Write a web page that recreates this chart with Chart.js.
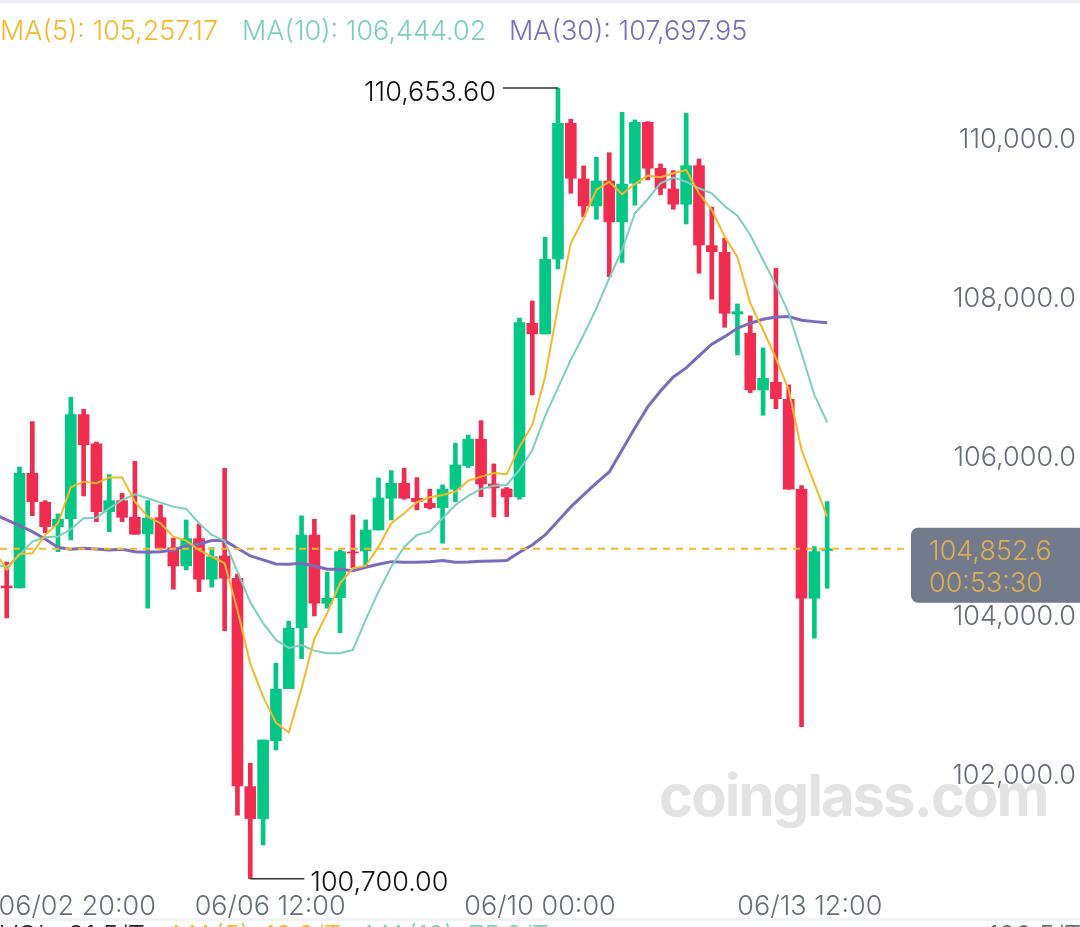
<!DOCTYPE html>
<html>
<head>
<meta charset="utf-8">
<title>BTC 4H</title>
<script src="https://cdn.jsdelivr.net/npm/chart.js@4/dist/chart.umd.min.js"></script>
<style>
    html, body { margin: 0; padding: 0; background: #fff; overflow: hidden; }
    canvas { display: block; }
</style>
</head>
<body>
<canvas id="klineChart" width="1080" height="927"></canvas>
<script>
// Candles
const opens = [104385,104360,105804,105439,105132,105233,106542,106173,105321,105459,105250,105040,105245,104868,104637,104981,104470,104763,104482,101858,101456,102437,103092,103860,105024,104167,104238,104813,104826,105090,105489,105678,105489,105426,105371,105603,105900,106232,105669,105606,105509,107692,107558,108502,110210,109509,109169,109484,108968,109455,110223,109644,109383,109191,109677,108670,108586,107810,107567,106853,106950,106736,105603,104230,104832];
const closes = [104360,105804,105447,105132,105225,106542,106164,105321,105459,105250,105036,105238,104860,104637,104981,104470,104754,104482,101867,101456,102446,103085,103853,105024,104167,104230,104817,104801,105090,105493,105678,105489,105447,105371,105603,105909,106232,105669,105619,105506,107700,107558,108498,110210,109518,109169,109484,108968,109443,110223,109644,109392,109191,109677,108678,108594,107818,107839,106853,107000,106743,105603,104230,104817,104852.6];
const highs = [104687,105883,106454,105459,105292,106761,106610,106198,105787,105552,105955,105459,105405,104986,105216,105166,104868,105867,104533,102153,102446,103412,103941,105267,105225,104558,104838,105279,105216,105745,105837,105867,105749,105603,105657,106182,106286,106466,105921,105625,107759,107973,108775,110653.6,110261,109673,109782,109840,110349,110252,110231,109698,109614,110337,109761,109153,108763,107936,107785,107382,108385,106916,105648,104880,105447];
const lows = [103982,104360,105270,105056,104817,104964,105518,105195,105069,105195,105036,104105,104860,104344,104587,104313,104369,103822,101498,100700,101124,102320,103092,103470,104008,104105,103797,104612,104628,105090,105216,105477,105342,105355,104923,105447,105875,105509,105254,105258,105477,106790,107558,108376,109329,109035,109002,108279,108460,109178,109497,109312,109128,108943,108322,107995,107642,107294,106819,106534,106617,105603,102614,103727,104356];

// Moving averages, the first value belongs to the candle just left of the view
const ma5 = [104838,104587,104788,104797,105027,105175,105628,105698,105678,105749,105749,105447,105258,105175,105006,104956,104838,104754,104671,104083,103403,102992,102664,102538,103097,103718,104042,104419,104608,104637,104880,105175,105301,105439,105502,105531,105572,105711,105761,105808,105792,106139,106412,107020,107902,108700,109015,109371,109475,109317,109446,109551,109531,109581,109623,109329,109119,108783,108524,107944,107608,107252,106853,106097,105673,105257.17];
const ma10 = [104650,104628,104776,104943,104998,105006,105099,105238,105245,105363,105468,105540,105489,105434,105384,105355,105175,105027,104952,104561,104180,103916,103705,103605,103642,103571,103538,103538,103579,103957,104313,104628,104873,105027,105069,105238,105405,105518,105606,105648,105657,105846,106097,106526,106878,107231,107545,107881,108259,108615,109077,109254,109455,109526,109475,109392,109329,109169,109047,108804,108489,108175,107818,107315,106790,106444.02];
const ma30 = [105292,105216,105145,105069,104977,104868,104847,104860,104851,104838,104847,104817,104809,104817,104838,104889,104914,104956,104956,104860,104763,104713,104662,104658,104671,104637,104595,104595,104578,104621,104658,104691,104684,104684,104691,104704,104684,104687,104696,104700,104704,104809,104901,105027,105204,105380,105531,105682,105821,106097,106374,106639,106840,107017,107130,107281,107428,107524,107630,107693,107743,107772,107776,107730,107713,107697.95];

// Axis labels
const timeLabels = ['06/02 20:00', '06/06 12:00', '06/10 00:00', '06/13 12:00'];
const timeTicks = [5.5, 20.55, 41.6, 62.65];
const priceTicks = [102000, 104000, 106000, 108000, 110000];

const lastPrice = 104852.6;
const countdown = '00:53:30';
const maxIndex = 43;
const minIndex = 19;
const bottomLegend = [
    { text: 'VOL: 91.5/T', color: '#222222', x: 0 },
    { text: 'MA(5): 18.8/T', color: '#f6b82b', x: 172 },
    { text: 'MA(10): 75.8/T', color: '#7ccfc0', x: 365 },
    { text: '100.5/T', color: '#656d78', x: 988 }
];

const GREEN = '#05c785';
const RED = '#f02d50';
const YELLOW = '#f6b82b';
const TEAL = '#7ccfc0';
const PURPLE = '#7c6bbd';
const AXIS_GREY = '#656d78';
const FONT = '"Inter", sans-serif';
const xMin = -0.523;
const xMax = 70.46;

const candleColors = closes.map((c, i) => (c >= opens[i] ? GREEN : RED));
const fmt = (v, d) => v.toLocaleString('en-US', { minimumFractionDigits: d, maximumFractionDigits: d });
const maPoints = (arr) => arr.map((v, i) => ({ x: i - 1, y: v }));
const maDataset = (label, arr, color, width, order) => ({
    type: 'line', label: label, data: maPoints(arr), borderColor: color,
    borderWidth: width, pointRadius: 0, tension: 0, order: order
});

// Everything that is text on top of the chart
const overlayPlugin = {
    id: 'overlay',
    beforeDraw(chart) {
        const ctx = chart.ctx;
        ctx.save();
        ctx.fillStyle = '#eef0f5';
        ctx.fillRect(0, 0, 1080, 3);
        ctx.fillStyle = '#f2f3f5';
        ctx.fillRect(0, 918, 1080, 3);
        ctx.restore();
    },
    beforeDatasetsDraw(chart) {
        // watermark
        const ctx = chart.ctx;
        ctx.save();
        ctx.font = '700 58px ' + FONT;
        ctx.letterSpacing = '-2px';
        ctx.fillStyle = '#e3e3e3';
        ctx.textAlign = 'left';
        ctx.textBaseline = 'alphabetic';
        ctx.fillText('coinglass.com', 659, 816);
        ctx.restore();
    },
    afterDraw(chart) {
        const ctx = chart.ctx;
        const xs = chart.scales.x;
        const ys = chart.scales.y;
        ctx.save();

        // header
        ctx.font = '300 27px ' + FONT;
        ctx.textBaseline = 'middle';
        ctx.textAlign = 'left';
        ctx.fillStyle = YELLOW;
        ctx.fillText('MA(5): ' + fmt(ma5[ma5.length - 1], 2), 0, 32);
        ctx.fillStyle = TEAL;
        ctx.fillText('MA(10): ' + fmt(ma10[ma10.length - 1], 2), 242, 32);
        ctx.fillStyle = PURPLE;
        ctx.fillText('MA(30): ' + fmt(ma30[ma30.length - 1], 2), 509, 32);

        // high and low markers
        ctx.strokeStyle = '#333333';
        ctx.lineWidth = 1.5;
        ctx.fillStyle = '#111111';
        const hx = xs.getPixelForValue(maxIndex);
        const hy = ys.getPixelForValue(highs[maxIndex]);
        ctx.beginPath();
        ctx.moveTo(hx, hy);
        ctx.lineTo(hx - 55, hy);
        ctx.stroke();
        ctx.textAlign = 'right';
        ctx.fillText(fmt(highs[maxIndex], 2), hx - 62, hy + 5);

        const lx = xs.getPixelForValue(minIndex);
        const ly = ys.getPixelForValue(lows[minIndex]);
        ctx.beginPath();
        ctx.moveTo(lx, ly);
        ctx.lineTo(lx + 54, ly);
        ctx.stroke();
        ctx.textAlign = 'left';
        ctx.fillText(fmt(lows[minIndex], 2), lx + 60, ly + 4);

        // last price tag
        const py = ys.getPixelForValue(lastPrice);
        ctx.fillStyle = '#737a8c';
        ctx.beginPath();
        ctx.roundRect(911, py - 21, 175, 75, 7);
        ctx.fill();
        ctx.fillStyle = '#dcae55';
        ctx.fillText(fmt(lastPrice, 1), 929, py + 3);
        ctx.fillText(countdown, 929, py + 35);

        // cut off row of the volume panel below
        ctx.textBaseline = 'top';
        bottomLegend.forEach((item) => {
            ctx.fillStyle = item.color;
            ctx.fillText(item.text, item.x, 923);
        });
        ctx.restore();
    }
};

new Chart(document.getElementById('klineChart'), {
    data: {
        datasets: [
            {
                type: 'line', label: 'Last', order: 1,
                data: [{ x: xMin, y: lastPrice }, { x: xMax, y: lastPrice }],
                borderColor: YELLOW, borderWidth: 2, borderDash: [7, 6], pointRadius: 0
            },
            maDataset('MA5', ma5, YELLOW, 2, 2),
            maDataset('MA10', ma10, TEAL, 2, 3),
            maDataset('MA30', ma30, PURPLE, 3, 4),
            {
                type: 'bar', label: 'Body', order: 5, grouped: false, barThickness: 11,
                data: opens.map((o, i) => ({ x: i, y: [o, closes[i]] })),
                backgroundColor: candleColors, borderWidth: 0
            },
            {
                type: 'bar', label: 'Wick', order: 6, grouped: false, barThickness: 4,
                data: lows.map((l, i) => ({ x: i, y: [l, highs[i]] })),
                backgroundColor: candleColors, borderWidth: 0
            }
        ]
    },
    options: {
        responsive: false,
        animation: false,
        devicePixelRatio: 1,
        layout: { padding: { top: 60, left: 0, right: 4, bottom: 0 } },
        plugins: { legend: { display: false }, tooltip: { enabled: false } },
        scales: {
            x: {
                type: 'linear',
                offset: false,
                min: xMin,
                max: xMax,
                grid: { display: false, drawTicks: false },
                border: { display: false },
                afterBuildTicks: (scale) => { scale.ticks = timeTicks.map((v) => ({ value: v })); },
                afterFit: (scale) => {
                    scale.height = 37;
                    scale.paddingLeft = 0;
                    scale.paddingRight = 0;
                },
                ticks: {
                    autoSkip: false,
                    maxRotation: 0,
                    padding: 1,
                    color: AXIS_GREY,
                    font: { family: FONT, size: 27, weight: '300' },
                    callback: (v, i) => timeLabels[i]
                }
            },
            y: {
                position: 'right',
                min: 100557,
                max: 111007,
                grid: { display: false, drawTicks: false },
                border: { display: false },
                afterBuildTicks: (scale) => { scale.ticks = priceTicks.map((v) => ({ value: v })); },
                afterFit: (scale) => {
                    scale.width = 166;
                    scale.paddingTop = 0;
                    scale.paddingBottom = 0;
                },
                ticks: {
                    crossAlign: 'far',
                    padding: 42,
                    color: AXIS_GREY,
                    font: { family: FONT, size: 27, weight: '300' },
                    callback: (v) => fmt(v, 1)
                }
            }
        }
    },
    plugins: [overlayPlugin]
});
</script>
</body>
</html>
